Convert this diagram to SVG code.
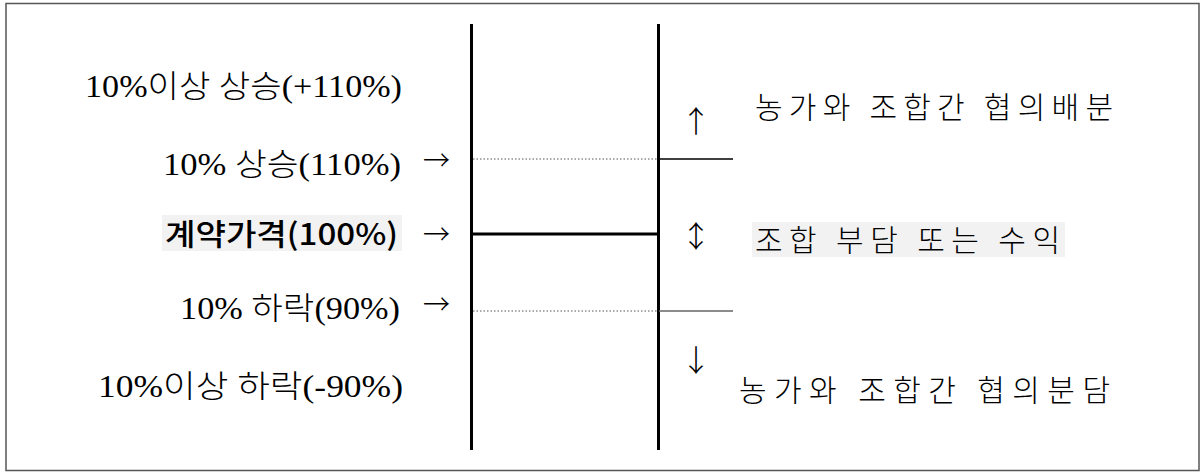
<svg xmlns="http://www.w3.org/2000/svg" width="1201" height="473" viewBox="0 0 1201 473">
<style>
.lbl{font-family:"Liberation Serif","Noto Sans CJK KR",serif;font-size:31px;fill:#000;font-weight:300}
.kr{font-family:"Noto Sans CJK KR","Liberation Sans",sans-serif;font-size:30px;fill:#000;font-weight:300}
.arr{font-family:"Noto Sans CJK KR",sans-serif;font-size:28px;fill:#000;font-weight:300}
.varr{font-family:"Noto Sans CJK KR",sans-serif;font-size:30px;fill:#000;font-weight:300;text-anchor:middle}
.bg{fill:#f2f2f2}
.axis{stroke:#000;stroke-width:3;fill:none}
.dot{stroke:#555;stroke-width:1;stroke-dasharray:1.5 2;fill:none}
</style>
<rect x="6" y="3.5" width="1193" height="467" fill="#fff" stroke="#555" stroke-width="1.5"/>
<g id="connectors">
<line class="axis" x1="471.5" y1="24" x2="471.5" y2="450"/>
<line class="axis" x1="658.5" y1="24" x2="658.5" y2="450"/>
<line class="axis" x1="471.5" y1="234" x2="658.5" y2="234"/>
<line class="dot" x1="473" y1="159" x2="657" y2="159"/>
<line class="dot" x1="473" y1="311" x2="657" y2="311"/>
<line x1="659" y1="159" x2="733" y2="159" stroke="#000" stroke-width="1.3"/>
<line x1="659" y1="311" x2="733" y2="311" stroke="#666" stroke-width="1.3"/>
</g>
<g id="above-plus">
<text class="lbl" x="85" y="97" textLength="317" lengthAdjust="spacingAndGlyphs">10%이상 상승(+110%)</text>
</g>
<g id="plus10">
<text class="lbl" x="163" y="175" textLength="238" lengthAdjust="spacingAndGlyphs">10% 상승(110%)</text>
<text class="arr" x="423" y="171" textLength="27" lengthAdjust="spacingAndGlyphs">→</text>
</g>
<g id="contract">
<rect class="bg" x="162" y="215" width="240" height="36"/>
<text class="kr" x="165" y="245" style="font-weight:500" textLength="233" lengthAdjust="spacingAndGlyphs">계약가격(100%)</text>
<text class="arr" x="423" y="245" textLength="27" lengthAdjust="spacingAndGlyphs">→</text>
</g>
<g id="minus10">
<text class="lbl" x="180" y="319" textLength="220" lengthAdjust="spacingAndGlyphs">10% 하락(90%)</text>
<text class="arr" x="423" y="315" textLength="27" lengthAdjust="spacingAndGlyphs">→</text>
</g>
<g id="below-minus">
<text class="lbl" x="98" y="397" textLength="305" lengthAdjust="spacingAndGlyphs">10%이상 하락(-90%)</text>
</g>
<g id="upper-zone">
<text class="varr" x="696" y="132">↑</text>
<text class="kr" x="755" y="118" textLength="358" lengthAdjust="spacing">농가와 조합간 협의배분</text>
</g>
<g id="middle-zone">
<text class="varr" x="696" y="247">↕</text>
<rect class="bg" x="752" y="222" width="313" height="35"/>
<text class="kr" x="755" y="251" textLength="305" lengthAdjust="spacing">조합 부담 또는 수익</text>
</g>
<g id="lower-zone">
<text class="varr" x="696" y="371">↓</text>
<text class="kr" x="739" y="401" textLength="371" lengthAdjust="spacing">농가와 조합간 협의분담</text>
</g>
</svg>
